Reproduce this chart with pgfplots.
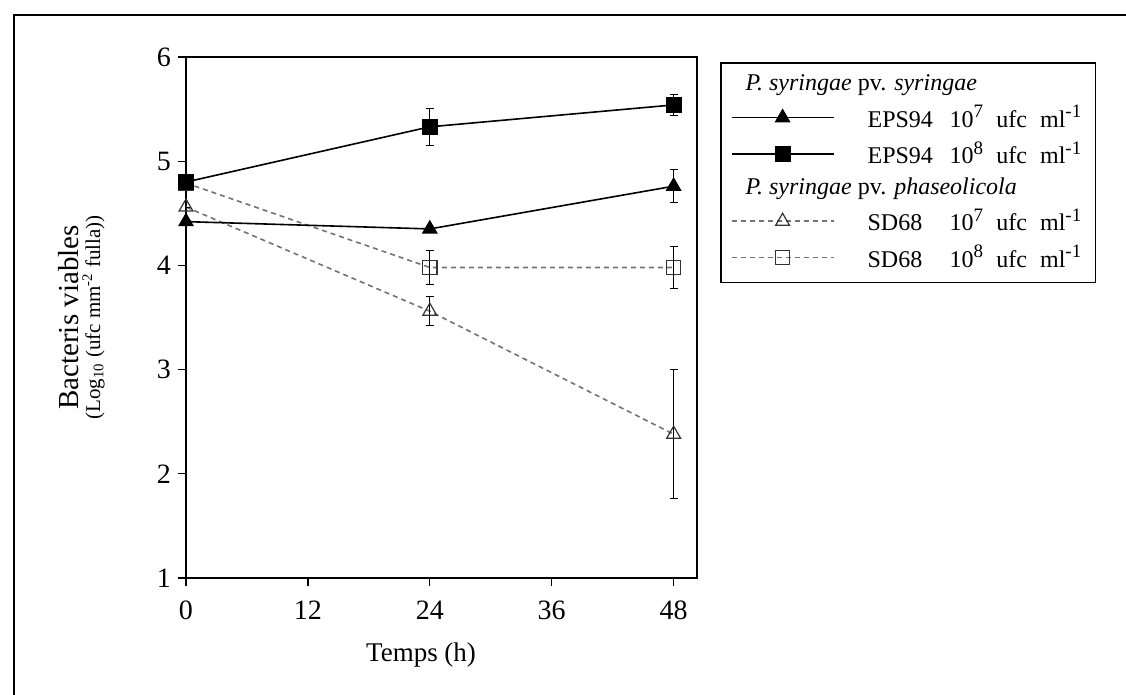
\documentclass[border=0pt]{standalone}
\usepackage{fontspec}
\setmainfont{Liberation Serif}
\usepackage{pgfplots}
\pgfplotsset{compat=1.18}
\usepackage{pgfplotstable}

\pgfplotstableread{
x y e
0 4.42 0
24 4.35 0
48 4.76 0.16
}\epsA
\pgfplotstableread{
x y e
0 4.80 0
24 5.33 0.18
48 5.54 0.10
}\epsB
\pgfplotstableread{
x y e
0 4.56 0
24 3.56 0.14
48 2.38 0.62
}\sdA
\pgfplotstableread{
x y e
0 4.79 0
24 3.98 0.16
48 3.98 0.20
}\sdB

\newcommand\sups[1]{\raisebox{0.4em}{\fontsize{9.5}{9.5}\selectfont #1}}
\newcommand\entry[2]{\makebox[41pt][l]{#1}10\sups{#2}\hspace{0.55em}ufc\hspace{0.55em}ml\sups{-1}}

\pgfplotsset{
  epsA/.style={black, solid, line width=0.8pt, mark=triangle*, mark size=3.8pt, mark options={solid, fill=black}},
  epsB/.style={black, solid, line width=0.8pt, mark=square*, mark size=3.6pt, mark options={solid, fill=black}},
  sdA/.style={black!55, line width=0.8pt, dash pattern=on 2.5pt off 2pt, mark=triangle, mark size=4pt, mark options={solid, draw=black!80, fill=white, line width=0.6pt}},
  sdB/.style={black!55, line width=0.8pt, dash pattern=on 2.5pt off 2pt, mark=square, mark size=3.6pt, mark options={solid, draw=black!80, fill=white, line width=0.6pt}},
  ebar/.style={error bars/.cd, y dir=both, y explicit, error bar style={solid, black, line width=0.5pt}, error mark options={solid, black, line width=0.5pt, mark size=2pt, rotate=90}},
}

\begin{document}
\begin{tikzpicture}
\useasboundingbox (0pt,0pt) rectangle (563pt,347.5pt);
\draw[line width=1pt] (7pt,-2pt) -- (7pt,340pt) -- (565pt,340pt);
\begin{axis}[
  at={(93pt,58.5pt)}, anchor=south west,
  scale only axis, width=255.5pt, height=260.5pt,
  xmin=0, xmax=50.3, ymin=1, ymax=6,
  xtick={0,12,24,36,48}, ytick={1,2,3,4,5,6},
  xtick pos=bottom, ytick pos=left,
  tick align=outside, major tick length=4pt,
  tick style={black, line width=0.6pt},
  axis line style={line width=0.8pt},
  /pgf/number format/assume math mode=true,
  ticklabel style={font=\fontsize{14}{14}\selectfont},
  xticklabel style={yshift=-4pt},
  xlabel={Temps (h)},
  xlabel style={font=\fontsize{13.5}{13.5}\selectfont, at={(axis description cs:0.46,-0.148)}, anchor=center},
  ylabel={{\fontsize{14.5}{16}\selectfont Bacteris viables}\\[-1pt]{\fontsize{10.5}{12}\selectfont (Log\textsubscript{10} (ufc mm\textsuperscript{-2} fulla))}},
  ylabel style={at={(axis description cs:-0.205,0.5)}, anchor=center, align=center},
  legend image code/.code={
    \draw[#1, mark repeat=2, mark phase=2] plot coordinates {(0pt,0pt) (25.5pt,0pt) (51pt,0pt)};
    \path[draw=none, fill=none] (0pt,0pt) -- (66pt,0pt);
  },
  legend cell align=left,
  legend style={at={(axis description cs:1.045,0.99)}, anchor=north west,
    draw=black, line width=0.8pt, inner xsep=5pt, inner ysep=4pt,
    font=\fontsize{12}{14}\selectfont, row sep=1.6pt},
]
\addplot[sdB, forget plot, ebar] table[x=x, y=y, y error=e] {\sdB};
\addplot[sdA, forget plot, ebar] table[x=x, y=y, y error=e] {\sdA};
\addplot[epsA, forget plot, ebar] table[x=x, y=y, y error=e] {\epsA};
\addplot[epsB, forget plot, ebar] table[x=x, y=y, y error=e] {\epsB};

\addlegendimage{empty legend}
\addlegendentry{\hspace*{-61pt}\textit{P. syringae} pv. \textit{syringae}}
\addlegendimage{epsA}
\addlegendentry{\entry{EPS94}{7}}
\addlegendimage{epsB}
\addlegendentry{\entry{EPS94}{8}}
\addlegendimage{empty legend}
\addlegendentry{\hspace*{-61pt}\textit{P. syringae} pv. \textit{phaseolicola}}
\addlegendimage{sdA}
\addlegendentry{\entry{SD68}{7}}
\addlegendimage{sdB}
\addlegendentry{\entry{SD68}{8}}
\end{axis}
\end{tikzpicture}
\end{document}
